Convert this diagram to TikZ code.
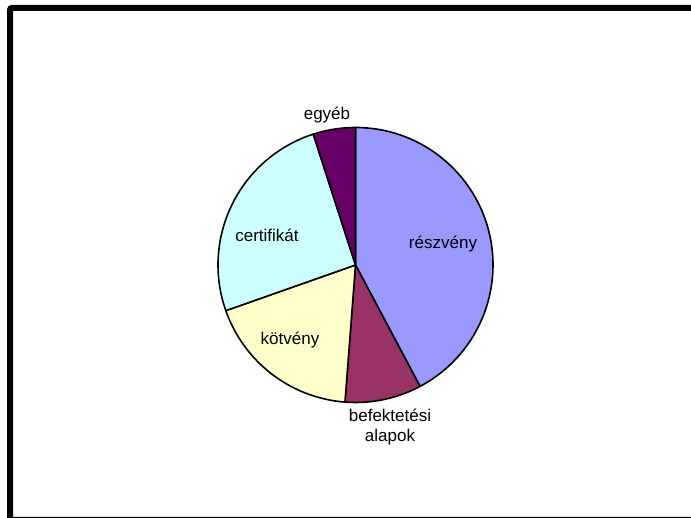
\documentclass[tikz,border=0pt]{standalone}
\usepackage{fontspec}
\setmainfont{Liberation Sans}
\usepackage{tikz}
\usetikzlibrary{positioning}
\definecolor{pielilac}{RGB}{153,153,255}
\definecolor{pieplum}{RGB}{153,51,102}
\definecolor{pieyellow}{RGB}{255,255,204}
\definecolor{piecyan}{RGB}{204,255,255}
\definecolor{piepurple}{RGB}{102,0,102}
\tikzstyle{slice} = [draw=black, line width=1.6pt, line join=round]
\tikzstyle{slicelabel} = [font=\fontsize{17}{20}\selectfont, text=black, align=center, inner sep=0pt]
\tikzstyle{frame} = [draw=black, line width=6pt, rounded corners=2pt]

\begin{document}
\begin{tikzpicture}[x=1pt, y=1pt]
\useasboundingbox (0,0) rectangle (691,518);
\draw[frame] (10,510) rectangle (694,-2);
\coordinate (c) at (355.5,253);
% slices, clockwise from the top
\filldraw[slice, fill=pielilac] (c) -- ++(90:137.5) arc[start angle=90, end angle=-62, radius=137.5] -- cycle;
\filldraw[slice, fill=pieplum] (c) -- ++(-62:137.5) arc[start angle=-62, end angle=-94.4, radius=137.5] -- cycle;
\filldraw[slice, fill=pieyellow] (c) -- ++(-94.4:137.5) arc[start angle=-94.4, end angle=-160.6, radius=137.5] -- cycle;
\filldraw[slice, fill=piecyan] (c) -- ++(-160.6:137.5) arc[start angle=199.4, end angle=107.9, radius=137.5] -- cycle;
\filldraw[slice, fill=piepurple] (c) -- ++(107.9:137.5) arc[start angle=107.9, end angle=90, radius=137.5] -- cycle;
% labels
\node[slicelabel] (reszveny) at (443,274) {részvény};
\node[slicelabel] (alapok) at (390,91) {befektetési\\alapok};
\node[slicelabel] (kotveny) at (290,178) {kötvény};
\node[slicelabel] (certifikat) at (267,283) {certifikát};
\node[slicelabel] (egyeb) at (327,403) {egyéb};
\end{tikzpicture}
\end{document}
